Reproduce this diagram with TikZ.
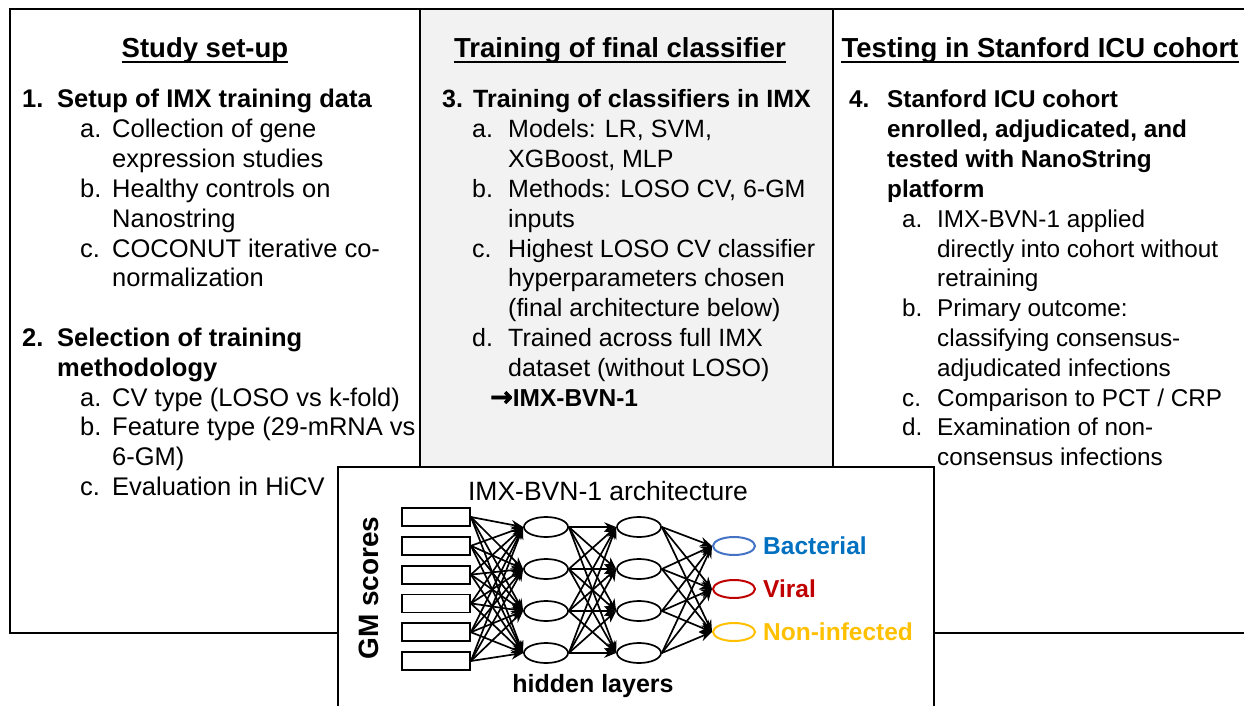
\documentclass[tikz,border=0pt]{standalone}
\usepackage{fontspec}
\setmainfont{Liberation Sans}
\newfontfamily\arrowfont[FakeBold=2.5]{DejaVu Sans}
\usetikzlibrary{shapes.geometric,arrows.meta}
\definecolor{bact}{HTML}{0070C0}
\definecolor{bactring}{HTML}{4472C4}
\definecolor{viral}{HTML}{C00000}
\definecolor{noninf}{HTML}{FFC000}
\definecolor{panelgray}{HTML}{F2F2F2}
\begin{document}
\begin{tikzpicture}[x=1pt,y=-1pt,
  txt/.style={anchor=base west,inner sep=0pt,font=\fontsize{25.5pt}{29.8pt}\selectfont},
  btxt/.style={txt,font=\fontsize{25.5pt}{29.8pt}\selectfont\bfseries},
  mtxt/.style={txt,font=\fontsize{25pt}{29.8pt}\selectfont},
  mbtxt/.style={txt,font=\fontsize{25pt}{29.8pt}\selectfont\bfseries},
  rtxt/.style={txt,font=\fontsize{24.3pt}{29.8pt}\selectfont},
  rbtxt/.style={txt,font=\fontsize{24.3pt}{29.8pt}\selectfont\bfseries},
  ttl/.style={anchor=base,inner sep=0pt,font=\fontsize{27.5pt}{32pt}\selectfont\bfseries},
  panel/.style={draw=black,line width=2.2pt},
  inbox/.style={draw=black,line width=1.8pt,minimum width=68pt,minimum height=18pt,inner sep=0pt},
  hid/.style={ellipse,draw=black,line width=1.7pt,minimum width=44pt,minimum height=20pt,inner sep=0pt},
  outn/.style={ellipse,line width=2pt,minimum width=42pt,minimum height=18pt,inner sep=0pt},
  edge/.style={line width=1.7pt,-{Stealth[length=12pt,width=9.5pt]}},
  lab/.style={anchor=west,inner sep=0pt,font=\fontsize{24.5pt}{28pt}\selectfont\bfseries}]
\useasboundingbox (0,0) rectangle (1244,706);
\fill[white] (0,0) rectangle (1244,706);
% panels
\draw[panel] (10,9) rectangle (420,633);
\draw[panel,fill=panelgray] (420,9) rectangle (833,467);
\draw[panel] (1260,9) -- (833,9) -- (833,633) -- (1260,633);
% inset
\draw[line width=1.5pt,fill=white] (338,467) rectangle (934,720);
% titles
\node[ttl] (t1) at (205,58) {Study set-up};
\node[ttl] (t2) at (620,58) {Training of final classifier};
\node[ttl] (t3) at (1040,58) {Testing in Stanford ICU cohort};
\foreach \t in {t1,t2,t3}
  \draw[line width=2pt] ([yshift=-4pt]\t.base west) -- ([yshift=-4pt]\t.base east);
% left column
\node[btxt] (a0n) at (22,108) {1.};
\node[btxt] (a0) at (57,108) {Setup of IMX training data};
\node[txt] (a1n) at (80,137.8) {a.};
\node[txt] (a1) at (112,137.8) {Collection of gene};
\node[txt] (a2) at (112,167.6) {expression studies};
\node[txt] (a3n) at (80,197.4) {b.};
\node[txt] (a3) at (112,197.4) {Healthy controls on};
\node[txt] (a4) at (112,227.2) {Nanostring};
\node[txt] (a5n) at (80,257) {c.};
\node[txt] (a5) at (112,257) {COCONUT iterative co-};
\node[txt] (a6) at (112,286.8) {normalization};
\node[btxt] (a8n) at (22,346.4) {2.};
\node[btxt] (a8) at (57,346.4) {Selection of training};
\node[btxt] (a9) at (57,376.2) {methodology};
\node[txt] (a10n) at (80,406) {a.};
\node[txt] (a10) at (112,406) {CV type (LOSO vs k-fold)};
\node[txt] (a11n) at (80,435.8) {b.};
\node[txt] (a11) at (112,435.8) {Feature type (29-mRNA vs};
\node[txt] (a12) at (112,465.6) {6-GM)};
\node[txt] (a13n) at (80,495.4) {c.};
\node[txt] (a13) at (112,495.4) {Evaluation in HiCV};
% middle column
\node[mbtxt] (b0n) at (442,108) {3.};
\node[mbtxt] (b0) at (473,108) {Training of classifiers in IMX};
\node[mtxt] (b1n) at (472,137.8) {a.};
\node[mtxt] (b1) at (508,137.8) {Models: LR, SVM,};
\node[mtxt] (b2) at (508,167.6) {XGBoost, MLP};
\node[mtxt] (b3n) at (472,197.4) {b.};
\node[mtxt] (b3) at (508,197.4) {Methods: LOSO CV, 6-GM};
\node[mtxt] (b4) at (508,227.2) {inputs};
\node[mtxt] (b5n) at (472,257) {c.};
\node[mtxt] (b5) at (508,257) {Highest LOSO CV classifier};
\node[mtxt] (b6) at (508,286.8) {hyperparameters chosen};
\node[mtxt] (b7) at (508,316.6) {(final architecture below)};
\node[mtxt] (b8n) at (472,346.4) {d.};
\node[mtxt] (b8) at (508,346.4) {Trained across full IMX};
\node[mtxt] (b9) at (508,376.2) {dataset (without LOSO)};
\node[txt,font=\fontsize{24.5pt}{29.8pt}\selectfont\bfseries] (b10) at (490,406) {{\arrowfont\fontsize{27pt}{29.8pt}\selectfont\bfseries →}IMX-BVN-1};
% right column
\node[rbtxt] (c0n) at (849,108) {4.};
\node[rbtxt] (c0) at (887,108) {Stanford ICU cohort};
\node[rbtxt] (c1) at (887,137.8) {enrolled, adjudicated, and};
\node[rbtxt] (c2) at (887,167.6) {tested with NanoString};
\node[rbtxt] (c3) at (887,197.4) {platform};
\node[rtxt] (c4n) at (902,227.2) {a.};
\node[rtxt] (c4) at (937,227.2) {IMX-BVN-1 applied};
\node[rtxt] (c5) at (937,257) {directly into cohort without};
\node[rtxt] (c6) at (937,286.8) {retraining};
\node[rtxt] (c7n) at (902,316.6) {b.};
\node[rtxt] (c7) at (937,316.6) {Primary outcome:};
\node[rtxt] (c8) at (937,346.4) {classifying consensus-};
\node[rtxt] (c9) at (937,376.2) {adjudicated infections};
\node[rtxt] (c10n) at (902,406) {c.};
\node[rtxt] (c10) at (937,406) {Comparison to PCT / CRP};
\node[rtxt] (c11n) at (902,435.8) {d.};
\node[rtxt] (c11) at (937,435.8) {Examination of non-};
\node[rtxt] (c12) at (937,465.6) {consensus infections};
% network
\node[inner sep=0pt,font=\fontsize{26.5pt}{28pt}\selectfont] (archt) at (608,491) {IMX-BVN-1 architecture};
\node[inner sep=0pt,rotate=90,font=\fontsize{28pt}{32pt}\selectfont\bfseries] (gm) at (369,588) {GM scores};
\node[inner sep=0pt,font=\fontsize{25pt}{28pt}\selectfont\bfseries] (hl) at (593,686) {hidden layers};
\foreach \i/\y in {1/517,2/545.8,3/574.6,4/603.4,5/632.2,6/661}
  \node[inbox] (in\i) at (436,\y) {};
\foreach \i/\y in {1/527,2/569,3/611,4/653} {
  \node[hid] (ha\i) at (546,\y) {};
  \node[hid] (hb\i) at (639,\y) {};
}
\node[outn,draw=bactring] (o1) at (734,546) {};
\node[outn,draw=viral] (o2) at (734,589) {};
\node[outn,draw=noninf] (o3) at (734,632) {};
\node[lab,text=bact] (l1) at (763,546) {Bacterial};
\node[lab,text=viral] (l2) at (763,589) {Viral};
\node[lab,text=noninf] (l3) at (763,632) {Non-infected};
\foreach \a in {1,...,6}
  \foreach \b in {1,...,4}
    \draw[edge] (in\a.east) -- (ha\b.west);
\foreach \a in {1,...,4}
  \foreach \b in {1,...,4}
    \draw[edge] (ha\a.east) -- (hb\b.west);
\foreach \a in {1,...,4}
  \foreach \b in {1,...,3}
    \draw[edge] (hb\a.east) -- (o\b.west);
\end{tikzpicture}
\end{document}
